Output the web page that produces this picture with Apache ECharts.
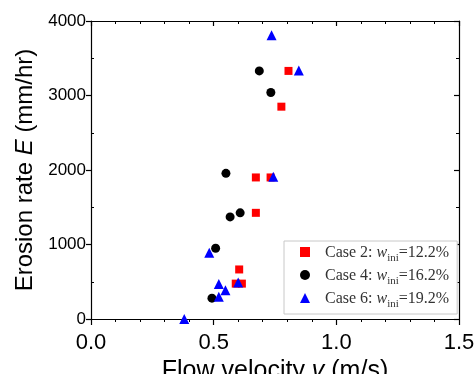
<!DOCTYPE html>
<html>
<head>
<meta charset="utf-8">
<script src="https://cdn.jsdelivr.net/npm/echarts@6/dist/echarts.min.js"></script>
<style>
html,body{margin:0;padding:0;background:#fff;}
#chart{width:474px;height:374px;}
</style>
</head>
<body>
<div id="chart"></div>
<script>
// Data
var case2X = [0.805, 0.776, 0.672, 0.732, 0.672, 0.604, 0.590, 0.615];
var case2Y = [3330, 2850, 1900, 1900, 1425, 665, 475, 475];
var case4X = [0.686, 0.733, 0.550, 0.608, 0.567, 0.508, 0.493];
var case4Y = [3330, 3040, 1955, 1425, 1370, 950, 280];
var case6X = [0.736, 0.847, 0.743, 0.482, 0.521, 0.548, 0.521, 0.600, 0.380];
var case6Y = [3810, 3335, 1910, 890, 470, 385, 300, 490, 0];
var seriesNames = ['Case 2', 'Case 4', 'Case 6'];
var wini = ['12.2%', '16.2%', '19.2%'];
var xTicks = [0, 0.5, 1.0, 1.5];
var yTicks = [0, 1000, 2000, 3000, 4000];

function pairs(xs, ys) { return xs.map(function (x, i) { return [x, ys[i]]; }); }

var chart = echarts.init(document.getElementById('chart'), null, {renderer: 'canvas'});
var sans = 'Liberation Sans, Arial, sans-serif';
var serif = 'Liberation Serif, Times New Roman, serif';

var xMin = xTicks[0], xMax = xTicks[xTicks.length - 1];
var yMin = yTicks[0], yMax = yTicks[yTicks.length - 1];
var lineBlack = {color: '#000', width: 1.2};

var option = {
  animation: false,
  backgroundColor: '#fff',
  grid: {left: 91, right: 15, top: 21, bottom: 55, containLabel: false, outerBoundsMode: 'none'},
  xAxis: [
    {
      type: 'value', position: 'bottom', min: xMin, max: xMax, interval: 0.5,
      axisLine: {show: true, onZero: false, lineStyle: lineBlack},
      splitLine: {show: false},
      axisTick: {show: true, inside: false, length: 6, lineStyle: lineBlack},
      minorTick: {show: true, splitNumber: 5, length: 3, lineStyle: {color: '#000', width: 1}},
      axisLabel: {fontFamily: sans, fontSize: 22, color: '#000', margin: 13,
        formatter: function (v) { return v.toFixed(1); }},
      name: '{a|Flow velocity }{i|v}{a| (m/s)}',
      nameLocation: 'middle', nameGap: 32,
      nameTextStyle: {rich: {
        a: {fontFamily: sans, fontSize: 25, color: '#000'},
        i: {fontFamily: sans, fontSize: 25, color: '#000', fontStyle: 'italic'}
      }}
    },
    {
      type: 'value', position: 'top', min: xMin, max: xMax, interval: 0.5,
      axisLine: {show: true, onZero: false, lineStyle: lineBlack},
      splitLine: {show: false},
      axisTick: {show: true, inside: true, length: 5, lineStyle: lineBlack},
      minorTick: {show: true, splitNumber: 5, length: 3, lineStyle: {color: '#000', width: 1}},
      axisLabel: {show: false}
    }
  ],
  yAxis: [
    {
      type: 'value', position: 'left', min: yMin, max: yMax, interval: 1000,
      axisLine: {show: true, onZero: false, lineStyle: lineBlack},
      splitLine: {show: false},
      axisTick: {show: true, inside: false, length: 5, lineStyle: lineBlack},
      minorTick: {show: false},
      axisLabel: {fontFamily: sans, fontSize: 17, color: '#000', margin: 5,
        formatter: function (v) { return String(v); }},
      name: '{a|Erosion rate }{i|E}{a| (mm/hr)}',
      nameLocation: 'middle', nameGap: 49,
      nameTextStyle: {padding: [0, 0, 0, 0], rich: {
        a: {fontFamily: sans, fontSize: 24, color: '#000'},
        i: {fontFamily: sans, fontSize: 24, color: '#000', fontStyle: 'italic'}
      }}
    },
    {
      type: 'value', position: 'right', min: yMin, max: yMax, interval: 1000,
      axisLine: {show: true, onZero: false, lineStyle: lineBlack},
      splitLine: {show: false},
      axisTick: {show: true, inside: true, length: 5, lineStyle: lineBlack},
      minorTick: {show: true, splitNumber: 2, length: 3, lineStyle: {color: '#000', width: 1}},
      axisLabel: {show: false}
    },
    {
      // inward minor ticks on the left side
      type: 'value', position: 'left', min: yMin, max: yMax, interval: 1000,
      axisLine: {show: false},
      splitLine: {show: false},
      axisTick: {show: false, inside: true},
      minorTick: {show: true, splitNumber: 2, length: 3, lineStyle: {color: '#000', width: 1}},
      axisLabel: {show: false}
    }
  ],
  legend: {
    left: 284, top: 241, orient: 'vertical',
    padding: [4, 8, 4, 16],
    itemWidth: 10, itemHeight: 10, itemGap: 4,
    backgroundColor: '#fff', borderColor: '#c8c8c8', borderWidth: 1,
    data: seriesNames,
    formatter: function (name) {
      var k = seriesNames.indexOf(name);
      return '{p|}{t|' + name + ': }{w|w}{s|ini}{t|=' + wini[k] + '}';
    },
    textStyle: {
      rich: {
        p: {width: 10, lineHeight: 18},
        t: {fontFamily: serif, fontSize: 16, color: '#333', lineHeight: 18, verticalAlign: 'bottom'},
        w: {fontFamily: serif, fontSize: 16, color: '#333', fontStyle: 'italic', lineHeight: 18, verticalAlign: 'bottom'},
        s: {fontFamily: serif, fontSize: 11, color: '#333', lineHeight: 14, verticalAlign: 'bottom', padding: [0, 0, -3, 0]}
      }
    }
  },
  series: [
    {name: seriesNames[0], type: 'scatter', symbol: 'rect', symbolSize: 8,
     itemStyle: {color: '#ff0000', opacity: 1}, data: pairs(case2X, case2Y)},
    {name: seriesNames[1], type: 'scatter', symbol: 'circle', symbolSize: 9,
     itemStyle: {color: '#000000', opacity: 1}, data: pairs(case4X, case4Y)},
    {name: seriesNames[2], type: 'scatter', symbol: 'triangle', symbolSize: 10,
     itemStyle: {color: '#0000ff', opacity: 1}, data: pairs(case6X, case6Y)}
  ]
};
chart.setOption(option);
</script>
</body>
</html>
